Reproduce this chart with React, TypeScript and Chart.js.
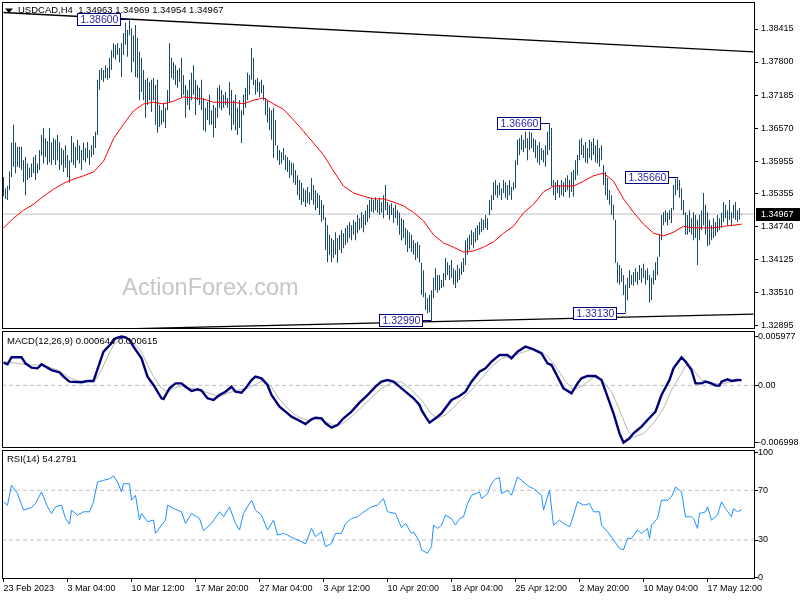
import React, { useEffect, useRef } from "react";
import { Chart, registerables } from "chart.js";

Chart.register(...registerables);

const FONT = '"Liberation Sans", Arial, sans-serif';

// ---- price bars (H4), one value per bar ----
const barHighs = [
  1.3566,1.3545,1.3549,1.3576,1.3630,1.3663,1.3630,1.3622,1.3622,1.3622,
  1.3597,1.3603,1.3591,1.3583,1.3591,1.3603,1.3607,1.3591,1.3616,1.3644,
  1.3657,1.3638,1.3633,1.3657,1.3630,1.3638,1.3635,1.3644,1.3631,1.3620,
  1.3616,1.3625,1.3607,1.3597,1.3642,1.3630,1.3622,1.3635,1.3625,1.3616,
  1.3630,1.3620,1.3631,1.3616,1.3625,1.3642,1.3650,1.3747,1.3765,1.3769,
  1.3765,1.3774,1.3769,1.3788,1.3802,1.3815,1.3812,1.3815,1.3806,1.3815,
  1.3834,1.3853,1.3840,1.3860,1.3843,1.3830,1.3849,1.3825,1.3799,1.3788,
  1.3765,1.3747,1.3750,1.3743,1.3747,1.3750,1.3737,1.3747,1.3700,1.3690,
  1.3704,1.3695,1.3728,1.3815,1.3788,1.3780,1.3774,1.3765,1.3769,1.3788,
  1.3756,1.3737,1.3728,1.3747,1.3760,1.3774,1.3747,1.3737,1.3732,1.3747,
  1.3713,1.3695,1.3706,1.3719,1.3690,1.3700,1.3695,1.3732,1.3737,1.3728,
  1.3719,1.3724,1.3713,1.3743,1.3728,1.3709,1.3719,1.3695,1.3709,1.3690,
  1.3719,1.3732,1.3760,1.3756,1.3806,1.3788,1.3747,1.3750,1.3743,1.3747,
  1.3737,1.3713,1.3709,1.3695,1.3690,1.3695,1.3672,1.3625,1.3616,1.3612,
  1.3620,1.3607,1.3603,1.3597,1.3593,1.3591,1.3579,1.3569,1.3560,1.3555,
  1.3545,1.3541,1.3547,1.3537,1.3564,1.3551,1.3541,1.3536,1.3532,1.3523,
  1.3514,1.3491,1.3476,1.3458,1.3452,1.3448,1.3463,1.3452,1.3458,1.3467,
  1.3461,1.3471,1.3476,1.3482,1.3476,1.3486,1.3482,1.3495,1.3489,1.3500,
  1.3495,1.3504,1.3514,1.3523,1.3527,1.3523,1.3528,1.3523,1.3527,1.3519,
  1.3532,1.3551,1.3519,1.3514,1.3517,1.3508,1.3514,1.3504,1.3499,1.3489,
  1.3486,1.3471,1.3467,1.3463,1.3458,1.3448,1.3443,1.3445,1.3439,1.3406,
  1.3392,1.3350,1.3340,1.3346,1.3355,1.3378,1.3396,1.3383,1.3383,1.3374,
  1.3387,1.3415,1.3407,1.3402,1.3411,1.3396,1.3392,1.3402,1.3396,1.3407,
  1.3415,1.3448,1.3452,1.3458,1.3467,1.3463,1.3471,1.3476,1.3482,1.3489,
  1.3486,1.3495,1.3489,1.3523,1.3532,1.3556,1.3560,1.3551,1.3555,1.3545,
  1.3560,1.3556,1.3551,1.3560,1.3547,1.3556,1.3597,1.3635,1.3638,1.3644,
  1.3635,1.3650,1.3638,1.3650,1.3648,1.3638,1.3635,1.3625,1.3631,1.3620,
  1.3616,1.3625,1.3650,1.3666,1.3657,1.3560,1.3556,1.3560,1.3551,1.3560,
  1.3556,1.3564,1.3569,1.3560,1.3575,1.3579,1.3597,1.3607,1.3635,1.3638,
  1.3625,1.3631,1.3620,1.3635,1.3631,1.3638,1.3625,1.3635,1.3620,1.3625,
  1.3588,1.3575,1.3564,1.3541,1.3532,1.3514,1.3486,1.3407,1.3402,1.3396,
  1.3383,1.3365,1.3378,1.3392,1.3383,1.3389,1.3396,1.3389,1.3402,1.3396,
  1.3404,1.3392,1.3396,1.3383,1.3378,1.3392,1.3407,1.3417,1.3458,1.3495,
  1.3500,1.3504,1.3499,1.3504,1.3508,1.3551,1.3562,1.3566,1.3560,1.3545,
  1.3523,1.3500,1.3495,1.3504,1.3489,1.3500,1.3495,1.3486,1.3495,1.3504,
  1.3536,1.3514,1.3500,1.3486,1.3476,1.3489,1.3482,1.3495,1.3489,1.3499,
  1.3519,1.3514,1.3504,1.3523,1.3500,1.3514,1.3519,1.3504,1.3508,1.34969,
];
const barLows = [
  1.3530,1.3525,1.3523,1.3541,1.3566,1.3585,1.3573,1.3585,1.3583,1.3579,
  1.3556,1.3532,1.3560,1.3564,1.3566,1.3573,1.3560,1.3573,1.3579,1.3606,
  1.3591,1.3603,1.3588,1.3593,1.3588,1.3597,1.3588,1.3597,1.3579,1.3588,
  1.3575,1.3583,1.3566,1.3555,1.3593,1.3588,1.3583,1.3597,1.3591,1.3579,
  1.3597,1.3593,1.3601,1.3588,1.3603,1.3607,1.3620,1.3644,1.3728,1.3747,
  1.3743,1.3750,1.3747,1.3750,1.3765,1.3788,1.3784,1.3793,1.3779,1.3752,
  1.3793,1.3812,1.3790,1.3830,1.3761,1.3780,1.3752,1.3750,1.3709,1.3724,
  1.3709,1.3676,1.3700,1.3709,1.3687,1.3709,1.3663,1.3648,1.3659,1.3663,
  1.3668,1.3657,1.3690,1.3704,1.3750,1.3747,1.3737,1.3732,1.3743,1.3715,
  1.3719,1.3676,1.3700,1.3690,1.3709,1.3719,1.3681,1.3709,1.3700,1.3690,
  1.3653,1.3650,1.3672,1.3663,1.3663,1.3640,1.3657,1.3676,1.3695,1.3690,
  1.3695,1.3700,1.3695,1.3681,1.3653,1.3663,1.3653,1.3644,1.3657,1.3629,
  1.3681,1.3695,1.3709,1.3719,1.3747,1.3737,1.3719,1.3724,1.3715,1.3722,
  1.3709,1.3681,1.3667,1.3653,1.3635,1.3601,1.3625,1.3597,1.3588,1.3591,
  1.3597,1.3579,1.3575,1.3564,1.3569,1.3555,1.3551,1.3532,1.3523,1.3514,
  1.3519,1.3510,1.3517,1.3514,1.3523,1.3514,1.3504,1.3508,1.3495,1.3482,
  1.3486,1.3430,1.3407,1.3421,1.3407,1.3415,1.3421,1.3406,1.3430,1.3424,
  1.3433,1.3439,1.3444,1.3452,1.3448,1.3458,1.3448,1.3461,1.3467,1.3471,
  1.3463,1.3476,1.3482,1.3489,1.3501,1.3499,1.3504,1.3499,1.3495,1.3499,
  1.3489,1.3504,1.3495,1.3486,1.3495,1.3480,1.3489,1.3476,1.3458,1.3448,
  1.3452,1.3439,1.3426,1.3433,1.3426,1.3421,1.3411,1.3415,1.3406,1.3346,
  1.3342,1.3318,1.3312,1.3314,1.3299,1.3340,1.3355,1.3350,1.3355,1.3359,
  1.3361,1.3374,1.3383,1.3374,1.3378,1.3365,1.3359,1.3369,1.3374,1.3383,
  1.3389,1.3402,1.3421,1.3430,1.3439,1.3433,1.3444,1.3448,1.3458,1.3463,
  1.3467,1.3471,1.3467,1.3495,1.3504,1.3523,1.3532,1.3527,1.3532,1.3523,
  1.3536,1.3527,1.3523,1.3532,1.3523,1.3541,1.3545,1.3588,1.3607,1.3616,
  1.3612,1.3620,1.3597,1.3616,1.3620,1.3612,1.3601,1.3593,1.3588,1.3597,
  1.3593,1.3585,1.3607,1.3616,1.3549,1.3532,1.3523,1.3536,1.3527,1.3532,
  1.3529,1.3538,1.3541,1.3527,1.3538,1.3529,1.3560,1.3569,1.3597,1.3607,
  1.3601,1.3593,1.3591,1.3601,1.3597,1.3607,1.3593,1.3591,1.3585,1.3597,
  1.3551,1.3532,1.3523,1.3514,1.3495,1.3486,1.3406,1.3369,1.3365,1.3370,
  1.3346,1.3313,1.3336,1.3359,1.3365,1.3363,1.3370,1.3365,1.3374,1.3369,
  1.3378,1.3365,1.3374,1.3332,1.3336,1.3365,1.3374,1.3383,1.3417,1.3448,
  1.3476,1.3482,1.3476,1.3486,1.3480,1.3504,1.3532,1.3541,1.3527,1.3504,
  1.3495,1.3458,1.3458,1.3463,1.3458,1.3448,1.3452,1.3402,1.3448,1.3467,
  1.3476,1.3458,1.3437,1.3439,1.3448,1.3452,1.3456,1.3463,1.3467,1.3471,
  1.3482,1.3489,1.3476,1.3486,1.3474,1.3489,1.3486,1.3482,1.3486,1.34954,
];

// moving average, read every 5 bars (last point = last bar)
const MA_STEP = 5;
const maValues = [
  1.3471,1.3489,1.3504,1.3515,1.3530,1.3543,1.3554,1.3562,1.3568,1.3575,
  1.3595,1.3637,1.3664,1.3689,1.3702,1.3705,1.3702,1.3707,1.3715,1.3713,
  1.3711,1.3705,1.3705,1.3705,1.3702,1.3709,1.3713,1.3702,1.3692,1.3672,
  1.3651,1.3629,1.3607,1.3577,1.3549,1.3536,1.3530,1.3525,1.3525,1.3519,
  1.3512,1.3500,1.3484,1.3458,1.3443,1.3435,1.3426,1.3428,1.3435,1.3445,
  1.3461,1.3474,1.3499,1.3515,1.3538,1.3549,1.3549,1.3549,1.3558,1.3568,
  1.3573,1.3558,1.3525,1.3500,1.3478,1.3461,1.3456,1.3463,1.3474,1.3471,
  1.3471,1.3471,1.3474,1.3476,1.3478,
];

const trendTop = [[0, 1.38722], [375, 1.37988]];
const trendBottom = [[0, 1.32775], [375, 1.33104]];

const peakBars = [63, 214, 273, 311, 337];
const peakValues = [1.386, 1.3299, 1.3666, 1.3313, 1.3566];

const lastClose = 1.34967;
const headerText = "USDCAD,H4  1.34963 1.34969 1.34954 1.34967";

const priceTicks = [1.38415, 1.378, 1.37185, 1.3657, 1.35955, 1.35355, 1.3474, 1.34125, 1.3351, 1.32895];

// MACD(12,26,9): [bar, value]
const macdLine = [
  [0,0.00278],[2,0.00258],[4,0.00344],[9,0.00344],[11,0.0027],[14,0.00217],[17,0.00209],[19,0.00258],[24,0.00188],[28,0.0016],
  [30,0.00107],[33,0.00046],[39,0.00038],[42,0.00054],[45,0.00054],[48,0.0027],[50,0.00413],[54,0.00515],[56,0.00576],[59,0.005977],
  [61,0.00588],[63,0.00556],[65,0.00474],[69,0.00331],[72,0.00107],[75,0.00005],[77,-0.00077],[79,-0.00158],[80,-0.00166],[83,-0.00036],
  [86,0.00025],[89,0.00025],[91,-0.00016],[94,-0.00069],[97,-0.00048],[99,-0.00064],[102,-0.00158],[105,-0.00179],[108,-0.00118],[111,-0.00077],
  [114,-0.00016],[116,-0.00077],[119,-0.00089],[121,-0.00036],[124,0.00066],[126,0.00107],[129,0.00086],[132,0.00005],[134,-0.00118],[138,-0.0026],
  [141,-0.00321],[144,-0.00383],[148,-0.00432],[151,-0.00472],[154,-0.00415],[156,-0.00395],[159,-0.00403],[161,-0.00464],[164,-0.00517],[167,-0.00485],
  [170,-0.00403],[174,-0.00321],[178,-0.00211],[182,-0.00118],[186,-0.00016],[189,0.00046],[192,0.00066],[195,0.00046],[198,-0.00016],[201,-0.00077],
  [205,-0.00158],[208,-0.0024],[209,-0.00301],[211,-0.00383],[213,-0.00456],[216,-0.00403],[219,-0.00342],[224,-0.00179],[228,-0.0013],[231,-0.00077],
  [234,0.00046],[238,0.00168],[241,0.00209],[244,0.00291],[248,0.00372],[252,0.00372],[254,0.00331],[257,0.00413],[261,0.00474],[265,0.00441],
  [269,0.00392],[272,0.0027],[274,0.00249],[277,0.00107],[280,-0.00036],[284,-0.00097],[287,0.00025],[289,0.00086],[292,0.00115],[296,0.00115],
  [299,0.00066],[302,-0.00138],[305,-0.00342],[308,-0.00587],[310,-0.006998],[313,-0.00648],[315,-0.00587],[319,-0.00505],[322,-0.00424],[326,-0.00321],
  [329,-0.00118],[333,0.00066],[335,0.00209],[339,0.00344],[341,0.00291],[344,0.00188],[346,0.00025],[349,0.00025],[351,0.00046],[354,0.00025],
  [356,-0.00003],[358,-0.00003],[359,0.00046],[362,0.00074],[364,0.00054],[367,0.00066],[369,0.000644],
];
const macdSignal = [
  [0,0.00291],[5,0.00278],[12,0.0025],[17,0.0025],[22,0.00229],[27,0.00188],[32,0.00107],[37,0.00054],[43,0.00046],[46,0.00066],
  [49,0.00188],[52,0.00352],[55,0.00494],[59,0.00576],[62,0.00576],[65,0.00515],[69,0.00413],[72,0.0025],[75,0.00107],[79,-0.00036],
  [82,-0.00077],[85,-0.00036],[89,-0.00007],[94,-0.00036],[99,-0.00064],[104,-0.00105],[108,-0.00138],[112,-0.00097],[117,-0.00056],[122,-0.00036],
  [127,0.00025],[130,0.00066],[134,-0.00016],[137,-0.00138],[142,-0.00281],[147,-0.00383],[152,-0.00424],[156,-0.00415],[160,-0.00432],[165,-0.00485],
  [169,-0.00472],[174,-0.00383],[179,-0.00268],[184,-0.00146],[189,-0.00036],[194,0.00033],[199,0.00046],[204,-0.00056],[209,-0.00179],[214,-0.0035],
  [217,-0.00403],[221,-0.00362],[225,-0.00268],[229,-0.00171],[234,-0.00056],[239,0.00086],[244,0.00229],[249,0.00331],[253,0.00352],[258,0.00392],
  [264,0.00441],[269,0.00413],[273,0.00331],[277,0.00197],[281,0.00046],[285,-0.00056],[290,0.00005],[295,0.00099],[299,0.00074],[304,-0.00077],
  [308,-0.00301],[312,-0.00546],[315,-0.00636],[320,-0.00587],[325,-0.00464],[330,-0.00281],[334,-0.00056],[339,0.00148],[342,0.00278],[345,0.00188],
  [349,0.00066],[354,0.00025],[359,0.00017],[364,0.00046],[369,0.000615],
];
const macdTicks = [0.005977, 0, -0.006998];
const macdTickLabels = ["0.005977", "0.00", "-0.006998"];

// RSI(14): [bar, value]
const rsiLine = [
  [0,60.7],[2,58],[4,74],[7,67.3],[10,54],[14,56.1],[16,59.3],[19,68.7],[22,56.7],[24,51.3],
  [26,56.7],[29,58],[31,47.3],[33,42.8],[34,54],[37,50],[40,52.7],[43,52.7],[45,60.7],[47,76.7],
  [50,78],[53,79.3],[55,81.5],[57,76.7],[59,68.7],[60,75.3],[63,75.3],[64,62],[66,66],[68,46],
  [69,51.3],[72,44.7],[75,46],[76,35.3],[79,42],[81,46],[82,58],[85,55.3],[89,52.7],[91,43.3],
  [94,51.3],[98,47.3],[100,37.5],[104,43.3],[108,52.7],[110,48.7],[113,56.7],[116,43.3],[118,38],[120,51.3],
  [124,62],[126,54],[129,50],[132,38],[135,46],[137,34],[140,35.3],[142,34],[145,31.3],[148,29.5],
  [151,26.8],[154,39.3],[156,32.7],[159,36.7],[161,24.7],[164,27.3],[166,35.3],[169,35.3],[171,43.3],[174,47.3],
  [177,48.7],[179,51.3],[184,56.7],[187,58],[190,63.3],[192,52.7],[196,51.3],[199,40],[201,43.3],[204,35.3],
  [205,36.7],[208,28.7],[209,22],[212,19.3],[214,24.7],[215,42],[217,39.3],[219,42],[221,50],[224,47.3],
  [226,42],[228,47.3],[230,48.7],[232,59.3],[234,66],[238,68.7],[239,63.3],[242,67.3],[244,75.3],[246,79.3],
  [248,80.1],[249,67.3],[252,70],[254,66],[257,80.7],[259,78],[263,72.7],[265,71.3],[269,66],[270,54],
  [273,70],[275,42],[278,46],[280,43.3],[283,40.7],[284,44.7],[287,60.7],[290,58],[293,59.3],[295,52.7],
  [298,52.7],[299,42],[302,36.7],[305,30],[308,23.3],[310,22],[312,31.3],[314,31.3],[317,38],[319,35.3],
  [322,39.3],[323,31.3],[324,42],[327,47.3],[329,62],[332,62],[334,64.7],[336,72.7],[339,68.7],[341,48.7],
  [344,48.7],[345,47.3],[347,39.3],[348,51.3],[351,52.7],[352,56.7],[354,46],[357,50],[359,60.7],[361,55.3],
  [364,48.7],[365,55.3],[367,52.7],[369,54.2791],
];
const rsiTicks = [100, 70, 30, 0];
const rsiLevels = [70, 30];

// time axis
const dateTickBars = [0, 32, 64, 96, 128, 160, 192, 224, 256, 288, 320, 352];
const dateTickLabels = [
  "23 Feb 2023", "3 Mar 04:00", "10 Mar 12:00", "17 Mar 20:00", "27 Mar 04:00", "3 Apr 12:00",
  "10 Apr 20:00", "18 Apr 04:00", "25 Apr 12:00", "2 May 20:00", "10 May 04:00", "17 May 12:00",
];

const X_MIN = -0.75;
const X_MAX = 375.25;
const BAR_COLOR = "#1b4a68";

Chart.defaults.font.family = FONT;
Chart.defaults.font.size = 9;
Chart.defaults.color = "#000";

const fitAxis = (size: number) => (scale: any) => {
  if (scale.isHorizontal()) scale.height = size;
  else scale.width = size;
  scale.paddingTop = 0;
  scale.paddingBottom = 0;
  scale.paddingLeft = 0;
  scale.paddingRight = 0;
};

const hiddenX = () => ({
  type: "linear",
  min: X_MIN,
  max: X_MAX,
  offset: false,
  display: false,
  afterFit: fitAxis(0),
});

const rightY = (min: number, max: number, ticks: number[], fmt: (v: number, i: number) => string, pad: number) => ({
  type: "linear",
  position: "right",
  min,
  max,
  afterBuildTicks: (s: any) => {
    s.ticks = ticks.map((v) => ({ value: v }));
  },
  afterFit: fitAxis(46),
  ticks: {
    autoSkip: false,
    padding: pad,
    color: "#000",
    font: { family: FONT, size: 9 },
    callback: (v: any, i: number) => fmt(Number(v), i),
  },
  grid: { drawOnChartArea: false, drawTicks: true, tickLength: 4, color: "#000" },
  border: { display: false },
});

const drawFrame = (chart: any) => {
  const { ctx, chartArea: a } = chart;
  ctx.save();
  ctx.strokeStyle = "#000";
  ctx.lineWidth = 1;
  ctx.strokeRect(a.left + 0.5, a.top + 0.5, a.right - a.left, a.bottom - a.top);
  ctx.restore();
};

const lineDs = (pts: number[][], color: string, width: number, extra: any = {}) => ({
  type: "line",
  data: pts.map((p) => ({ x: p[0], y: p[1] })),
  borderColor: color,
  borderWidth: width,
  pointRadius: 0,
  tension: 0,
  fill: false,
  ...extra,
});

const mainPlugin = {
  id: "mainDecor",
  beforeDatasetsDraw(chart: any) {
    const { ctx } = chart;
    ctx.save();
    ctx.font = `23.5px ${FONT}`;
    ctx.fillStyle = "#c6c6c6";
    ctx.textAlign = "center";
    ctx.textBaseline = "middle";
    ctx.fillText("ActionForex.com", 210.5, 289);
    ctx.restore();
  },
  afterDraw(chart: any) {
    const { ctx } = chart;
    const xs = chart.scales.x;
    const ys = chart.scales.y;
    drawFrame(chart);
    ctx.save();
    // header
    ctx.fillStyle = "#000";
    ctx.beginPath();
    ctx.moveTo(5, 8.5);
    ctx.lineTo(13, 8.5);
    ctx.lineTo(9, 13);
    ctx.closePath();
    ctx.fill();
    ctx.font = `9.5px ${FONT}`;
    ctx.textAlign = "left";
    ctx.textBaseline = "middle";
    ctx.fillText(headerText, 18, 10.5);
    // peak labels
    ctx.font = `10.5px ${FONT}`;
    peakBars.forEach((b, k) => {
      const px = xs.getPixelForValue(b);
      const yc = Math.round(ys.getPixelForValue(peakValues[k]));
      const bw = 43;
      const right = Math.round(px - 10) + 0.5;
      const left = right - bw;
      ctx.fillStyle = "#fff";
      ctx.fillRect(left, yc - 5.5, bw, 12);
      ctx.strokeStyle = "#000080";
      ctx.lineWidth = 1;
      ctx.strokeRect(left, yc - 5.5, bw, 12);
      ctx.beginPath();
      ctx.moveTo(right, yc + 0.5);
      ctx.lineTo(px, yc + 0.5);
      ctx.stroke();
      ctx.fillStyle = "#2a2aa6";
      ctx.fillText(peakValues[k].toFixed(5), left + 3, yc + 1);
    });
    // current price box
    const yp = Math.round(ys.getPixelForValue(lastClose));
    ctx.fillStyle = "#000";
    ctx.fillRect(756, yp - 6, 44, 13);
    ctx.fillStyle = "#fff";
    ctx.font = `9px ${FONT}`;
    ctx.fillText(lastClose.toFixed(5), 761, yp + 0.5);
    ctx.restore();
  },
};

const labelPlugin = (id: string, text: string, y: number) => ({
  id,
  afterDraw(chart: any) {
    drawFrame(chart);
    const { ctx } = chart;
    ctx.save();
    ctx.font = `9.5px ${FONT}`;
    ctx.fillStyle = "#000";
    ctx.textAlign = "left";
    ctx.textBaseline = "middle";
    ctx.fillText(text, 7, y);
    ctx.restore();
  },
});

const common = (padding: any) => ({
  responsive: false,
  animation: false,
  devicePixelRatio: 1,
  events: [],
  layout: { padding },
  plugins: { legend: { display: false }, tooltip: { enabled: false }, title: { display: false } },
});

function mainConfig(): any {
  return {
    type: "bar",
    data: {
      datasets: [
        lineDs(trendTop, "#000", 1.3),
        lineDs(trendBottom, "#000", 1.3),
        {
          type: "line",
          data: maValues.map((v, k) => ({ x: Math.min(k * MA_STEP, barHighs.length - 1), y: v })),
          borderColor: "#ff0000",
          borderWidth: 1,
          pointRadius: 0,
          tension: 0,
        },
        {
          type: "bar",
          data: barHighs.map((h, k) => ({ x: k, y: [barLows[k], h] })),
          backgroundColor: BAR_COLOR,
          borderWidth: 0,
          barThickness: 1,
          grouped: false,
          inflateAmount: 0,
        },
        lineDs([[X_MIN, lastClose], [X_MAX, lastClose]], "#c0c0c0", 1),
      ],
    },
    options: {
      ...common({ left: 2, top: 2, right: 0, bottom: 272 }),
      scales: {
        x: hiddenX(),
        y: rightY(1.32845, 1.38918, priceTicks, (v) => v.toFixed(5), 3),
      },
    },
    plugins: [mainPlugin],
  };
}

function macdConfig(): any {
  return {
    type: "line",
    data: {
      datasets: [
        lineDs(macdLine, "#00007a", 2.4),
        lineDs(macdSignal, "#b4b4b4", 1),
        lineDs([[X_MIN, 0], [X_MAX, 0]], "#c0c0c0", 1, { borderDash: [4, 3] }),
      ],
    },
    options: {
      ...common({ left: 2, top: 331, right: 0, bottom: 153 }),
      scales: {
        x: hiddenX(),
        y: rightY(-0.00754, 0.006658, macdTicks, (_v, i) => macdTickLabels[i], 0),
      },
    },
    plugins: [labelPlugin("macdLabel", "MACD(12,26,9) 0.000644 0.000615", 341)],
  };
}

function rsiConfig(): any {
  return {
    type: "line",
    data: {
      datasets: [
        lineDs(rsiLine, "#1e90ff", 1),
        ...rsiLevels.map((lv) => lineDs([[X_MIN, lv], [X_MAX, lv]], "#c0c0c0", 1, { borderDash: [4, 3] })),
      ],
    },
    options: {
      ...common({ left: 2, top: 450, right: 0, bottom: 0 }),
      scales: {
        x: {
          type: "linear",
          min: X_MIN,
          max: X_MAX,
          offset: false,
          afterBuildTicks: (s: any) => {
            s.ticks = dateTickBars.map((v) => ({ value: v }));
          },
          afterFit: fitAxis(22),
          ticks: {
            autoSkip: false,
            maxRotation: 0,
            minRotation: 0,
            align: "start",
            padding: 1,
            color: "#000",
            font: { family: FONT, size: 9 },
            callback: (_v: any, i: number) => dateTickLabels[i],
          },
          grid: { drawOnChartArea: false, drawTicks: true, tickLength: 4, color: "#000" },
          border: { display: false },
        },
        y: rightY(-0.56, 102.4, rsiTicks, (v) => String(v), 0),
      },
    },
    plugins: [labelPlugin("rsiLabel", "RSI(14) 54.2791", 459.5)],
  };
}

export default function App() {
  const mainRef = useRef<HTMLCanvasElement | null>(null);
  const macdRef = useRef<HTMLCanvasElement | null>(null);
  const rsiRef = useRef<HTMLCanvasElement | null>(null);

  useEffect(() => {
    const charts = [
      new Chart(mainRef.current as HTMLCanvasElement, mainConfig()),
      new Chart(macdRef.current as HTMLCanvasElement, macdConfig()),
      new Chart(rsiRef.current as HTMLCanvasElement, rsiConfig()),
    ];
    return () => charts.forEach((c) => c.destroy());
  }, []);

  const cs: React.CSSProperties = { position: "absolute", left: 0, top: 0, width: 800, height: 600 };
  return (
    <div style={{ position: "fixed", left: 0, top: 0, width: 800, height: 600, background: "#fff" }}>
      <canvas ref={mainRef} width={800} height={600} style={cs} />
      <canvas ref={macdRef} width={800} height={600} style={cs} />
      <canvas ref={rsiRef} width={800} height={600} style={cs} />
    </div>
  );
}
